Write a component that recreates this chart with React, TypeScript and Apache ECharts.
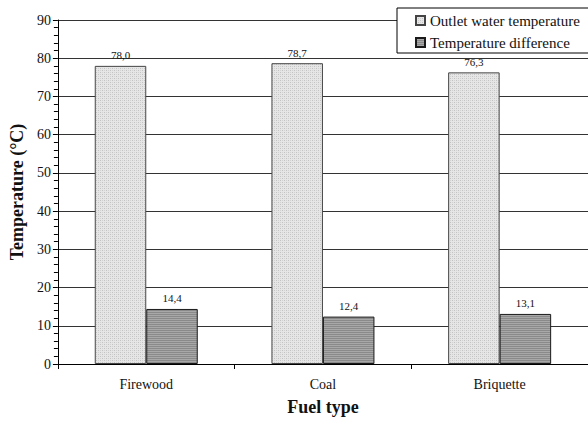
import React, { useEffect, useRef } from "react";
import * as echarts from "echarts";

const categories = ["Firewood", "Coal", "Briquette"];
const outletTemp = [78.0, 78.7, 76.3];
const tempDiff = [14.4, 12.4, 13.1];
const seriesNames = ["Outlet water temperature", "Temperature difference"];
const yTicks = { min: 0, max: 90, interval: 10 };

const FONT = "Liberation Serif, serif";

function makePattern(w: number, h: number, draw: (ctx: CanvasRenderingContext2D) => void) {
  const c = document.createElement("canvas");
  c.width = w;
  c.height = h;
  const ctx = c.getContext("2d") as CanvasRenderingContext2D;
  draw(ctx);
  return c;
}

export default function App() {
  const ref = useRef<HTMLDivElement>(null);

  useEffect(() => {
    if (!ref.current) return;
    const chart = echarts.init(ref.current, undefined, { renderer: "svg" });

    const light = makePattern(4, 4, (ctx) => {
      ctx.fillStyle = "#e6e6e6";
      ctx.fillRect(0, 0, 4, 4);
      ctx.fillStyle = "#c2c2c2";
      ctx.fillRect(0, 0, 1, 1);
      ctx.fillRect(2, 2, 1, 1);
      ctx.fillStyle = "#d2d2d2";
      ctx.fillRect(2, 0, 1, 1);
      ctx.fillRect(0, 2, 1, 1);
    });
    const dark = makePattern(4, 2, (ctx) => {
      ctx.fillStyle = "#8a8a8a";
      ctx.fillRect(0, 0, 4, 1);
      ctx.fillStyle = "#a8a8a8";
      ctx.fillRect(0, 1, 4, 1);
    });

    const fmt = (p: any) => Number(p.value).toFixed(1).replace(".", ",");

    chart.setOption({
      animation: false,
      backgroundColor: "#ffffff",
      textStyle: { fontFamily: FONT, color: "#111" },
      grid: { left: 52, top: 20, width: 540, height: 344, containLabel: false },
      legend: {
        orient: "vertical",
        left: 397,
        top: 8,
        padding: [5, 60, 3, 18],
        itemWidth: 9,
        itemHeight: 9,
        itemGap: 7,
        icon: "rect",
        borderColor: "#000",
        borderWidth: 1,
        backgroundColor: "#fff",
        textStyle: { fontFamily: FONT, fontSize: 15, lineHeight: 13, color: "#111" },
        data: seriesNames,
      },
      xAxis: {
        type: "category",
        data: categories,
        boundaryGap: true,
        name: "Fuel type",
        nameLocation: "middle",
        nameGap: 34,
        nameTextStyle: { fontFamily: FONT, fontSize: 18, fontWeight: "bold", color: "#111" },
        axisLine: { lineStyle: { color: "#000", width: 1 } },
        axisTick: { show: true, length: 5, interval: 0, lineStyle: { color: "#000" } },
        axisLabel: { fontFamily: FONT, fontSize: 14, color: "#111", margin: 13 },
        splitLine: { show: false },
      },
      yAxis: {
        type: "value",
        min: yTicks.min,
        max: yTicks.max,
        interval: yTicks.interval,
        name: "Temperature (°C)",
        nameLocation: "middle",
        nameGap: 30,
        nameTextStyle: { fontFamily: FONT, fontSize: 18, fontWeight: "bold", color: "#111" },
        axisLine: { show: true, lineStyle: { color: "#000", width: 1 } },
        axisTick: { show: true, length: 5, lineStyle: { color: "#000" } },
        minorTick: { show: true, splitNumber: 5, length: 4, lineStyle: { color: "#000" } },
        axisLabel: { fontFamily: FONT, fontSize: 14, color: "#111", margin: 7 },
        splitLine: { show: true, lineStyle: { color: "#333", width: 1 } },
      },
      series: [
        {
          name: seriesNames[0],
          type: "bar",
          data: outletTemp,
          barWidth: 51.5,
          barGap: "0%",
          itemStyle: {
            color: { image: light, repeat: "repeat" },
            borderColor: "#444",
            borderWidth: 1,
          },
          label: {
            show: true,
            position: "top",
            distance: 5,
            fontFamily: FONT,
            fontSize: 11,
            color: "#111",
            formatter: fmt,
          },
        },
        {
          name: seriesNames[1],
          type: "bar",
          data: tempDiff,
          barWidth: 51.5,
          barGap: "0%",
          itemStyle: {
            color: { image: dark, repeat: "repeat" },
            borderColor: "#1a1a1a",
            borderWidth: 1,
          },
          label: {
            show: true,
            position: "top",
            distance: 5,
            fontFamily: FONT,
            fontSize: 11,
            color: "#111",
            formatter: fmt,
          },
        },
      ],
    });

    return () => chart.dispose();
  }, []);

  return (
    <div
      ref={ref}
      style={{ position: "fixed", left: 0, top: 0, width: 588, height: 421, background: "#fff" }}
    />
  );
}
